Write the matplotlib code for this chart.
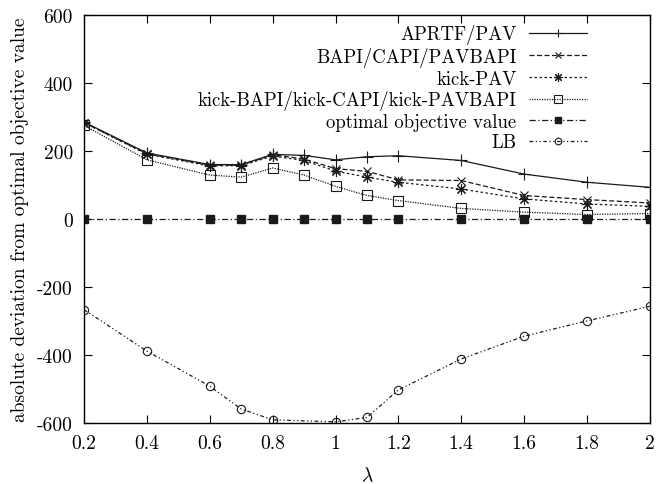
import numpy as np
import matplotlib
matplotlib.use('Agg')
import matplotlib.pyplot as plt
from matplotlib.ticker import FormatStrFormatter, MultipleLocator

plt.rcParams['font.family'] = 'cmr10'
plt.rcParams['mathtext.fontset'] = 'cm'
plt.rcParams['axes.unicode_minus'] = False
plt.rcParams['font.size'] = 14

lam = [0.2, 0.4, 0.6, 0.7, 0.8, 0.9, 1.0, 1.1, 1.2, 1.4, 1.6, 1.8, 2.0]

aprtf = [285, 194, 160, 160, 190, 187, 174, 183, 186, 172, 132, 108, 93]
bapi = [283, 192, 158, 158, 189, 176, 148, 140, 115, 113, 69, 57, 47]
kick_pav = [283, 190, 156, 157, 185, 172, 141, 123, 108, 88, 59, 44, 37]
kick_bapi = [275, 174, 129, 123, 150, 129, 96, 69, 54, 31, 20, 13, 16]
optimal = [0] * len(lam)

lam_lb = [0.2, 0.4, 0.6, 0.7, 0.8, 1.0, 1.1, 1.2, 1.4, 1.6, 1.8, 2.0]
lb = [-267, -389, -492, -559, -591, -597, -584, -503, -412, -345, -300, -257]

fig = plt.figure(figsize=(6.57, 4.85), dpi=100)
ax = fig.add_axes([0.128, 0.126, 0.861, 0.841])

c = '#1a1a1a'
lw = 0.9
ax.plot(lam, aprtf, color=c, lw=lw, ls='-', marker='+', ms=8, mew=0.8,
        label='APRTF/PAV')
ax.plot(lam, bapi, color=c, lw=lw, ls=(0, (4, 2)), marker='x', ms=6, mew=0.8,
        label='BAPI/CAPI/PAVBAPI')
ax.plot(lam, kick_pav, color=c, lw=lw, ls=(0, (2, 2)), marker=(8, 2, 0), ms=8,
        mew=0.8, label='kick-PAV')
ax.plot(lam, kick_bapi, color=c, lw=lw, ls=(0, (1, 1)), marker='s', ms=7,
        mfc='none', mew=0.8, label='kick-BAPI/kick-CAPI/kick-PAVBAPI')
ax.plot(lam, optimal, color=c, lw=lw, ls=(0, (5, 2, 1, 2)), marker='s', ms=6,
        label='optimal objective value')
ax.plot(lam_lb, lb, color=c, lw=lw, ls=(0, (3, 2, 1, 2, 1, 2)), marker='o', ms=6,
        mfc='none', mew=0.8, label='LB')

ax.set_xlim(0.2, 2.0)
ax.set_ylim(-600, 600)
ax.xaxis.set_major_locator(MultipleLocator(0.2))
ax.yaxis.set_major_locator(MultipleLocator(200))
ax.xaxis.set_major_formatter(FormatStrFormatter('%g'))
ax.tick_params(direction='in', length=6, width=0.8, top=True, right=True, pad=8)
for s in ax.spines.values():
    s.set_linewidth(1.0)

ax.set_xlabel(r'$\lambda$', labelpad=10)
ax.set_ylabel('absolute deviation from optimal objective value', labelpad=6)

ax.legend(loc='upper right', frameon=False, markerfirst=False, handlelength=3.1,
          labelspacing=0.14, borderaxespad=0.1, handletextpad=0.65,
          fontsize=13.5, markerscale=0.8, bbox_to_anchor=(0.905, 1.0))

fig.savefig('out.png', dpi=100)
